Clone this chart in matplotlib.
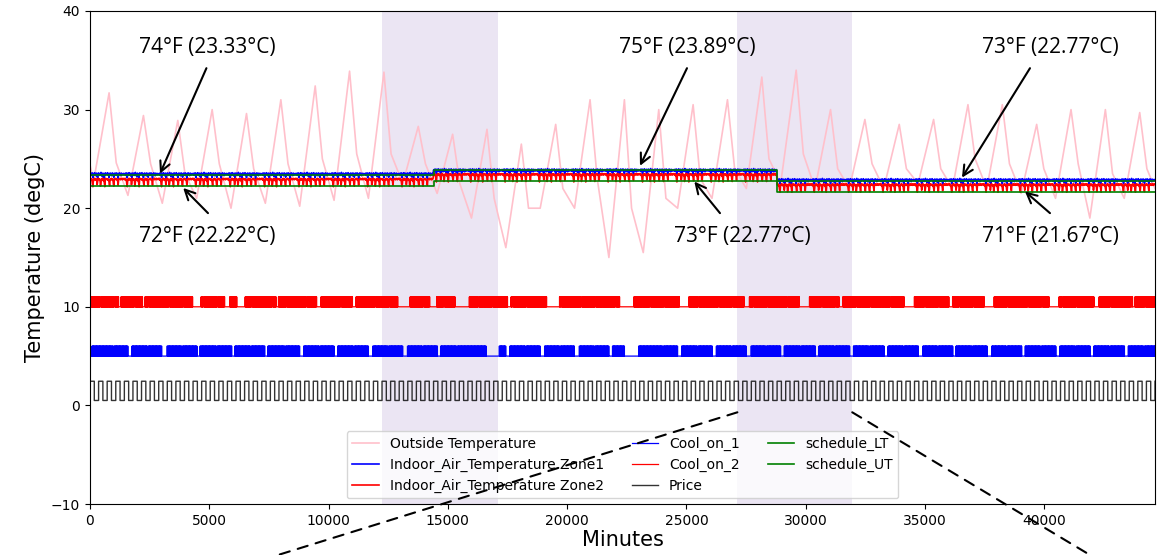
import numpy as np
import matplotlib
matplotlib.use("Agg")
import matplotlib.pyplot as plt
from matplotlib.patches import ConnectionPatch

# ---------------- data ----------------
END_MIN = 44640                      # 31 days
DAY = 1440

# outside temperature, per day: early-morning low, afternoon peak, evening value
outside_start = 24.4
outside_low = [22.7, 21.3, 20.5, 21.0, 20.0, 20.5, 20.2, 20.8, 21.0, 22.5, 21.5,
               19.0, 16.0, 20.0, 20.0, 15.0, 15.5, 20.0, 21.0, 22.0, 22.5, 22.0,
               22.0, 22.0, 22.5, 22.0, 22.0, 21.5, 21.0, 19.0, 21.0]
outside_peak = [31.7, 29.4, 28.9, 30.0, 29.6, 31.0, 32.4, 33.9, 33.8, 28.3, 27.5,
                28.0, 26.5, 28.5, 31.0, 31.0, 30.0, 30.5, 31.0, 33.3, 34.0, 30.0,
                29.0, 28.5, 29.0, 30.5, 30.5, 28.5, 30.0, 30.0, 29.7]
outside_eve = [24.6, 24.5, 23.5, 24.5, 24.0, 24.5, 25.0, 25.5, 25.5, 24.5, 22.5,
               21.0, 20.0, 22.0, 23.0, 20.0, 21.0, 23.0, 24.0, 25.0, 25.5, 24.0,
               24.5, 24.0, 24.0, 25.0, 24.5, 24.0, 24.5, 23.5, 24.0]
outside_end = 22.0
low_at, peak_at, eve_at = 150, 800, 1100   # minute of day for each daily value

# comfort schedule: change points (minutes) and bounds for each period
sched_change_min = [0, 14400, 28800, END_MIN]
schedule_LT_vals = [22.22, 22.77, 21.67]
schedule_UT_vals = [23.33, 23.89, 22.77]
zone1_period_shift = [0.05, -0.12, 0.0]
zone2_period_shift = [0.0, -0.08, 0.0]

# daily indoor profiles, 20-minute resolution, offset from schedule_UT (degC)
zone1_day_offset = [0.10, 0.00, 0.18, -0.05, 0.12, 0.20, -0.30, 0.05, 0.15, -0.02, 0.22, 0.05,
                    0.10, -0.10, 0.18, 0.00, -0.40, 0.10, 0.20, 0.02, 0.12, -0.05, 0.15, 0.25,
                    0.00, 0.10, -0.20, 0.18, 0.05, 0.12, -0.35, 0.08, 0.20, 0.00, 0.15, 0.05,
                    0.10, 0.22, -0.05, 0.12, -0.30, 0.10, 0.18, 0.00, 0.15, 0.05, -0.10, 0.20,
                    0.05, 0.12, -0.25, 0.15, 0.00, 0.18, 0.08, -0.05, 0.20, 0.10, 0.02, -0.35,
                    0.15, 0.05, 0.20, 0.00, 0.12, -0.08, 0.18, 0.05, 0.10, 0.00, 0.15, 0.05]
zone2_day_offset = [-0.35, -0.45, -0.30, -0.50, -0.40, -0.85, -1.15, -0.55, -0.35, -0.45, -0.30, -0.40,
                    -0.50, -0.35, -0.45, -0.95, -0.60, -0.30, -0.40, -0.35, -0.50, -0.40, -1.10, -0.70,
                    -0.35, -0.45, -0.30, -0.40, -0.55, -0.35, -0.80, -1.15, -0.45, -0.30, -0.40, -0.35,
                    -0.45, -0.35, -0.50, -0.40, -0.70, -1.05, -0.50, -0.35, -0.45, -0.30, -0.40, -0.50,
                    -0.35, -0.90, -1.10, -0.45, -0.35, -0.40, -0.30, -0.45, -0.35, -0.40, -0.60, -1.00,
                    -0.45, -0.35, -0.40, -0.30, -0.45, -0.35, -0.40, -0.30, -0.45, -0.35, -0.40, -0.30]

# cooling signals: longer periods fully off (start, end minute)
cool1_off = [(0, 80), (1590, 1760), (3015, 3225), (4480, 4600), (5945, 6070),
             (7330, 7450), (8790, 8950), (10230, 10380), (11670, 11850), (13110, 13300),
             (14560, 14700), (16600, 17150), (17430, 17600), (18870, 19050),
             (20300, 20500), (21750, 21900), (22400, 23000), (24630, 24800),
             (26080, 26250), (27500, 27700), (28950, 29100), (30400, 30550),
             (31840, 32000), (33280, 33450), (34720, 34900), (36160, 36300),
             (37600, 37800), (39050, 39200), (40480, 40650), (41920, 42080), (43360, 43520)]
cool2_off = [(0, 60), (1200, 1300), (2200, 2300), (4300, 4650), (5650, 5850),
             (6150, 6500), (7800, 7900), (9500, 9650), (11000, 11150), (12900, 13400),
             (14240, 14530), (15300, 15900), (17500, 17650), (19180, 19680),
             (22200, 22800), (24700, 25100), (27430, 27640), (29730, 30150),
             (31400, 31550), (34130, 34550), (36000, 36150), (37480, 37900),
             (40200, 40620), (42080, 42300), (43700, 43800)]
# short daily off periods (minute of day start, end)
cool1_daily_off = [(960, 990)]
cool2_daily_off = [(420, 460), (1010, 1045)]
# fast switching inside the "on" stretches (5-minute steps)
cool1_pattern = [1, 1, 0, 1, 1, 1, 0, 1, 0, 1, 1, 1]
cool2_pattern = [1, 0, 1, 1, 0, 1, 0, 1, 1, 0, 1, 1]

# price signal: one day at 15-minute resolution (4 cycles per day)
price_high, price_low = 2.45, 0.5
price_day = ([price_high] * 12 + [price_low] * 12) * 4

shade_spans = [(12230, 17085), (27135, 31950)]

# (label, text centre, arrow tail, arrow head)
annotations = [
    ("74°F (23.33°C)", (4904, 36.3), (4880, 34.2), (2934, 23.5)),
    ("72°F (22.22°C)", (4904, 17.1), (4946, 19.5), (3905, 22.05)),
    ("75°F (23.89°C)", (25023, 36.3), (25023, 34.2), (23053, 24.3)),
    ("73°F (22.77°C)", (27329, 17.1), (26406, 19.5), (25330, 22.7)),
    ("73°F (22.77°C)", (40238, 36.3), (39400, 34.2), (36550, 23.1)),
    ("71°F (21.67°C)", (40238, 17.1), (40238, 19.5), (39190, 21.7)),
]

# ---------------- build series ----------------
n_days = len(outside_peak)
out_x = [0]
out_y = [outside_start]
for d in range(n_days):
    out_x += [d * DAY + low_at, d * DAY + peak_at, d * DAY + eve_at]
    out_y += [outside_low[d], outside_peak[d], outside_eve[d]]
out_x.append(END_MIN)
out_y.append(outside_end)

step = 20
t_in = np.arange(0, END_MIN + step, step)
ut = np.zeros(len(t_in))
s1 = np.zeros(len(t_in))
s2 = np.zeros(len(t_in))
for i in range(len(schedule_UT_vals)):
    m = (t_in >= sched_change_min[i]) & (t_in <= sched_change_min[i + 1])
    ut[m] = schedule_UT_vals[i]
    s1[m] = zone1_period_shift[i]
    s2[m] = zone2_period_shift[i]
reps = len(t_in) // len(zone1_day_offset) + 1
z1 = ut + s1 + np.tile(zone1_day_offset, reps)[:len(t_in)]
z2 = ut + s2 + np.tile(zone2_day_offset, reps)[:len(t_in)]

t5 = np.arange(0, END_MIN + 5, 5)
def cool_series(offs, daily_offs, pattern):
    reps = len(t5) // len(pattern) + 1
    s = np.tile(pattern, reps)[:len(t5)].astype(float)
    for a, b in offs:
        s[(t5 >= a) & (t5 < b)] = 0
    tod = t5 % DAY
    for a, b in daily_offs:
        s[(tod >= a) & (tod < b)] = 0
    return s
cool1 = 5 + cool_series(cool1_off, cool1_daily_off, cool1_pattern)
cool2 = 10 + cool_series(cool2_off, cool2_daily_off, cool2_pattern)

t15 = np.arange(0, END_MIN + 15, 15)
price = np.tile(price_day, n_days + 1)[:len(t15)]

sched_x = np.array(sched_change_min)
sched_LT = np.array(schedule_LT_vals + [schedule_LT_vals[-1]])
sched_UT = np.array(schedule_UT_vals + [schedule_UT_vals[-1]])

# ---------------- plot ----------------
fig = plt.figure(figsize=(11.61, 5.55), dpi=100)
ax = fig.add_axes([90 / 1161, 1 - 504 / 555, (1155 - 90) / 1161, (504 - 11) / 555])

for a, b in shade_spans:
    ax.axvspan(a, b, color='#ebe5f3', zorder=0, lw=0)

ax.plot(out_x, out_y, color='pink', lw=1.2, label='Outside Temperature')
ax.plot(t_in, z1, color='blue', lw=1.2, label='Indoor_Air_Temperature Zone1')
ax.plot(t_in, z2, color='red', lw=1.2, label='Indoor_Air_Temperature Zone2')
ax.step(t5, cool1, where='post', color='blue', lw=0.9, label='Cool_on_1')
ax.step(t5, cool2, where='post', color='red', lw=0.9, label='Cool_on_2')
ax.step(t15, price, where='post', color='black', lw=1, alpha=0.8, label='Price')
ax.step(sched_x, sched_LT, where='post', color='green', lw=1.2, label='schedule_LT')
ax.step(sched_x, sched_UT, where='post', color='green', lw=1.2, label='schedule_UT')

ax.set_xlim(0, END_MIN)
ax.set_ylim(-10, 40)
ax.set_xticks([0, 5000, 10000, 15000, 20000, 25000, 30000, 35000, 40000])
ax.set_yticks([-10, 0, 10, 20, 30, 40])
ax.tick_params(labelsize=10)
ax.set_xlabel('Minutes', fontsize=15, labelpad=2)
ax.set_ylabel('Temperature (degC)', fontsize=15)

ax.legend(loc='lower center', ncol=3, fontsize=10, borderaxespad=0.4,
          handlelength=1.9)

for txt, pos, tail, head in annotations:
    ax.text(pos[0], pos[1], txt, fontsize=15, ha='center', va='center',
            family='Open Sans')
    ax.annotate('', xy=head, xytext=tail,
                arrowprops=dict(arrowstyle='->', color='black', lw=1.5,
                                mutation_scale=18, shrinkA=0, shrinkB=0))

# dashed zoom-out guide lines
c1 = ConnectionPatch(xyA=(27135, -0.7), coordsA=ax.transData,
                     xyB=(278 / 1161, 0.0), coordsB=fig.transFigure,
                     linestyle=(0, (5, 4)), color='black', lw=1.5)
c2 = ConnectionPatch(xyA=(31950, -0.7), coordsA=ax.transData,
                     xyB=(1090 / 1161, 0.0), coordsB=fig.transFigure,
                     linestyle=(0, (5, 4)), color='black', lw=1.5)
fig.add_artist(c1)
fig.add_artist(c2)

fig.savefig('out.png', dpi=100)
